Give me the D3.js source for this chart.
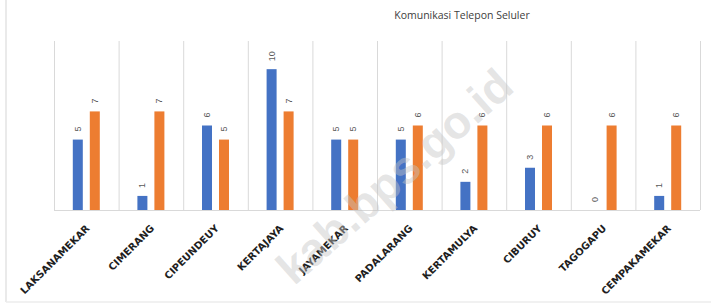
<!DOCTYPE html>
<html><head><meta charset="utf-8">
<script src="https://cdn.jsdelivr.net/npm/d3@7"></script>
<style>html,body{margin:0;padding:0;background:#fff;}svg{display:block;}</style>
</head><body>
<script>
const title = "Komunikasi Telepon Seluler";
const categories = ["LAKSANAMEKAR","CIMERANG","CIPEUNDEUY","KERTAJAYA","JAYAMEKAR","PADALARANG","KERTAMULYA","CIBURUY","TAGOGAPU","CEMPAKAMEKAR"];
const seriesNames = ["Seri 1","Seri 2"];
const series1 = [5,1,6,10,5,5,2,3,0,1];
const series2 = [7,7,5,7,5,6,6,6,6,6];
const seriesColors = ["#4472C4","#ED7D31"];
const yDomain = [0,12];
const watermark = "kab.bps.go.id";

const W=711,H=306;
const svg=d3.select("body").append("svg").attr("width",W).attr("height",H);

// frame lines
svg.append("line").attr("x1",6).attr("x2",6).attr("y1",0).attr("y2",302).attr("stroke","#e3e3e3").attr("stroke-width",1.5);
svg.append("line").attr("x1",6).attr("x2",711).attr("y1",302).attr("y2",302).attr("stroke","#ececec").attr("stroke-width",1.5);

const x=d3.scaleBand().domain(categories).range([54,700]).paddingInner(0).paddingOuter(0);
const cw=x.bandwidth();
const x1=d3.scaleBand().domain(seriesNames).range([cw/2-13.5,cw/2+13.5]).paddingInner(7/17).paddingOuter(0);
const y=d3.scaleLinear().domain(yDomain).range([210,41]);

// vertical gridlines at category boundaries
const bounds=categories.map(c=>x(c)).concat([x(categories[categories.length-1])+cw]);
svg.append("g").selectAll("line").data(bounds).join("line")
  .attr("x1",d=>d+0.5).attr("x2",d=>d+0.5).attr("y1",y(yDomain[1])).attr("y2",y(0))
  .attr("stroke","#d9d9d9").attr("stroke-width",1);
// baseline
svg.append("line").attr("x1",x.range()[0]).attr("x2",x.range()[1]).attr("y1",y(0)+0.5).attr("y2",y(0)+0.5).attr("stroke","#d9d9d9");

const data=categories.map((c,i)=>({c,vals:[{s:seriesNames[0],v:series1[i],k:0},{s:seriesNames[1],v:series2[i],k:1}]}));
const g=svg.append("g").selectAll("g").data(data).join("g").attr("transform",d=>`translate(${x(d.c)},0)`);
g.selectAll("rect").data(d=>d.vals).join("rect")
  .attr("x",d=>x1(d.s)).attr("width",x1.bandwidth())
  .attr("y",d=>y(d.v)).attr("height",d=>y(0)-y(d.v))
  .attr("fill",d=>seriesColors[d.k]);
g.selectAll("text").data(d=>d.vals).join("text")
  .attr("transform",d=>`translate(${x1(d.s)+x1.bandwidth()/2+3},${y(d.v)-8}) rotate(-90)`)
  .attr("text-anchor","start")
  .attr("font-family","Liberation Sans, Arial, sans-serif").attr("font-size",9)
  .attr("fill","#595959").text(d=>d.v);

// category labels
svg.append("g").selectAll("text").data(categories).join("text")
  .attr("transform",d=>`translate(${x(d)+cw/2+4},${229}) rotate(-45)`)
  .attr("text-anchor","end")
  .attr("font-family","DejaVu Sans, sans-serif").attr("font-weight","bold").attr("font-size",10)
  .attr("fill","#1f1f1f").text(d=>d);

// title
svg.append("text").attr("x",462).attr("y",19).attr("text-anchor","middle")
  .attr("font-family","Open Sans, Liberation Sans, sans-serif").attr("font-size",10.5)
  .attr("fill","#404040").text(title);

// watermark
svg.append("text").attr("transform","translate(516,90) rotate(-41.5)")
  .attr("text-anchor","end").attr("font-family","Liberation Sans, Arial, sans-serif")
  .attr("font-weight","bold").attr("font-size",46)
  .attr("fill","#c4c4c4").attr("fill-opacity",0.45).text(watermark);
</script>
</body></html>
